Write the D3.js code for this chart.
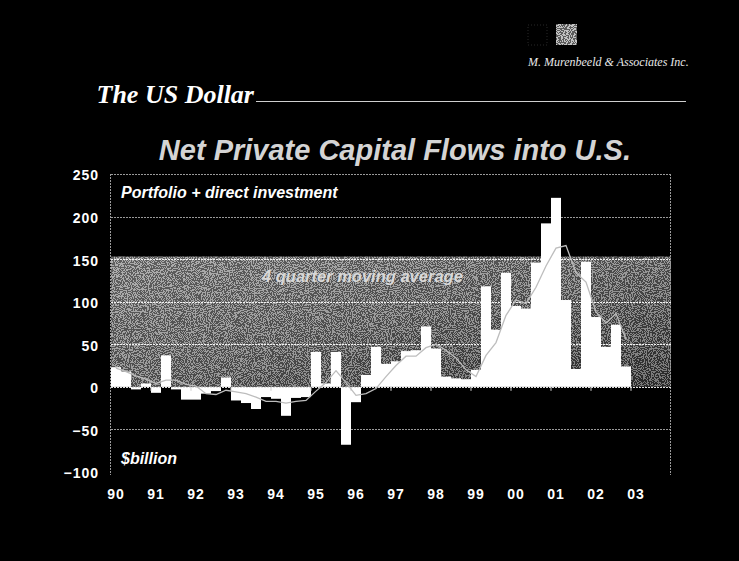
<!DOCTYPE html>
<html>
<head>
<meta charset="utf-8">
<script src="https://cdn.jsdelivr.net/npm/d3@7"></script>
<style>
  html, body { margin: 0; padding: 0; background: #000; }
  svg { display: block; }
</style>
</head>
<body>
<svg id="chart" width="739" height="561"></svg>
<script>
// Year labels on the category axis (one slot of four quarters each)
const years = ["90","91","92","93","94","95","96","97","98","99","00","01","02","03"];
const quarterNames = ["Q1","Q2","Q3","Q4"];

// Net private capital flows into the U.S., $ billion per quarter, 1990Q1 - 2002Q4
const flows = [
  23, 18, -3, 4,       // 1990
  -7, 37, -3, -15,     // 1991
  -15, -8, -5, 11,     // 1992
  -16, -19, -26, -12,  // 1993
  -14, -34, -13, -12,  // 1994
  41, 4, 41, -68,      // 1995
  -18, 14, 47, 27,     // 1996
  30, 42, 43, 71,      // 1997
  45, 12, 10, 9,       // 1998
  20, 118, 67, 134,    // 1999
  95, 92, 146, 192,    // 2000
  222, 102, 21, 147,   // 2001
  82, 47, 73, 24       // 2002
];

// 4 quarter moving average, $ billion
const movingAvg = [
  22, 18, 13, 9,
  4, 8, 8, 3,
  1, -8, -9, -4,
  -6, -8, -12, -17,
  -17, -19, -17, -16,
  -5, 5, 19, 5,
  -10, -8, -2, 12,
  25, 36, 36, 46,
  50, 43, 34, 20,
  12, 37, 52, 84,
  102, 98, 117, 142,
  163, 166, 134, 123,
  88, 75, 86, 56
];

const yTicks = [-100, -50, 0, 50, 100, 150, 200, 250];

const chartTitle = "Net Private Capital Flows into U.S.";
const sectionTitle = "The US Dollar";
const firmName = "M. Murenbeeld & Associates Inc.";
const seriesNote = "Portfolio + direct investment";
const unitNote = "$billion";
const avgNote = "4 quarter moving average";

const svg = d3.select("#chart");
const sans = "'Liberation Sans', Arial, sans-serif";
const serif = "'Liberation Serif', 'Times New Roman', serif";

const categories = years.flatMap(yr => quarterNames.map(q => yr + q));

const plot = { left: 111, right: 671, top: 174, bottom: 472 };

const x = d3.scaleBand().domain(categories).range([plot.left, plot.right]).padding(0);
const y = d3.scaleLinear().domain([-100, 250]).range([plot.bottom, plot.top]);

const defs = svg.append("defs");

// shaded band behind the bars
const grad = defs.append("linearGradient").attr("id", "bandFill")
  .attr("x1", "0").attr("y1", "0").attr("x2", "1").attr("y2", "1");
grad.append("stop").attr("offset", "0%").attr("stop-color", "#8c8c8c");
grad.append("stop").attr("offset", "50%").attr("stop-color", "#6e6e6e");
grad.append("stop").attr("offset", "100%").attr("stop-color", "#3a3a3a");

const grain = defs.append("filter").attr("id", "grain")
  .attr("x", 0).attr("y", 0).attr("width", 1).attr("height", 1);
grain.append("feTurbulence").attr("type", "fractalNoise")
  .attr("baseFrequency", 0.95).attr("numOctaves", 1).attr("seed", 7).attr("result", "n");
grain.append("feColorMatrix").attr("in", "n").attr("type", "matrix")
  .attr("values", "0.33 0.33 0.33 0 0  0.33 0.33 0.33 0 0  0.33 0.33 0.33 0 0  0 0 0 0 1")
  .attr("result", "g");
const ct = grain.append("feComponentTransfer").attr("in", "g").attr("result", "b");
["feFuncR", "feFuncG", "feFuncB"].forEach(f => ct.append(f).attr("type", "discrete").attr("tableValues", "0 1"));
grain.append("feComposite").attr("in", "b").attr("in2", "SourceGraphic").attr("operator", "in");

// top-right firm mark
svg.append("rect").attr("x", 528).attr("y", 25).attr("width", 19).attr("height", 20)
  .attr("fill", "#000").attr("stroke", "#444").attr("stroke-width", 0.6).attr("stroke-dasharray", "1,2");
svg.append("rect").attr("x", 556).attr("y", 24).attr("width", 21).attr("height", 21)
  .attr("fill", "#9a9a9a");
svg.append("rect").attr("x", 556).attr("y", 24).attr("width", 21).attr("height", 21)
  .attr("fill", "#fff").attr("filter", "url(#grain)").attr("opacity", 0.4);
svg.append("text").attr("x", 528).attr("y", 66)
  .attr("font-family", serif).attr("font-style", "italic").attr("font-size", 12)
  .attr("fill", "#e8e8e8").text(firmName);

// section heading with rule
svg.append("text").attr("x", 254).attr("y", 103).attr("text-anchor", "end")
  .attr("font-family", serif).attr("font-style", "italic").attr("font-weight", "bold")
  .attr("font-size", 26).attr("fill", "#fff").text(sectionTitle);
svg.append("line").attr("x1", 256).attr("x2", 686).attr("y1", 101.5).attr("y2", 101.5)
  .attr("stroke", "#cfcfcf").attr("stroke-width", 1);

// chart title
svg.append("text").attr("x", 631).attr("y", 160).attr("text-anchor", "end")
  .attr("font-family", sans).attr("font-style", "italic").attr("font-weight", "bold")
  .attr("font-size", 29).attr("fill", "#d4d4d4").text(chartTitle);

// shaded band from about 153 down to zero
const band = svg.append("g");
band.append("rect").attr("x", plot.left).attr("width", plot.right - plot.left)
  .attr("y", y(153)).attr("height", y(0) - y(153)).attr("fill", "url(#bandFill)");
band.append("rect").attr("x", plot.left).attr("width", plot.right - plot.left)
  .attr("y", y(153)).attr("height", y(0) - y(153)).attr("fill", "#fff")
  .attr("filter", "url(#grain)").attr("opacity", 0.3);

// horizontal gridlines
svg.append("g").selectAll("line").data(yTicks.filter(t => t !== -100))
  .join("line")
  .attr("x1", plot.left).attr("x2", plot.right)
  .attr("y1", d => Math.round(y(d)) + 0.5).attr("y2", d => Math.round(y(d)) + 0.5)
  .attr("stroke", d => (d >= 50 && d <= 150) ? "#f2f2f2" : "#9a9a9a")
  .attr("stroke-width", 1)
  .attr("stroke-dasharray", "2,1");

// plot side borders
svg.append("g").selectAll("line").data([plot.left, plot.right])
  .join("line")
  .attr("x1", d => d - 0.5).attr("x2", d => d - 0.5)
  .attr("y1", plot.top).attr("y2", plot.bottom + 3)
  .attr("stroke", "#9a9a9a").attr("stroke-dasharray", "2,1");

// bars
svg.append("g").selectAll("rect").data(flows)
  .join("rect")
  .attr("x", (d, i) => x(categories[i]))
  .attr("width", x.bandwidth())
  .attr("y", d => y(Math.max(0, d)))
  .attr("height", d => Math.abs(y(d) - y(0)))
  .attr("fill", "#fff");

// zero axis with year ticks
svg.append("line").attr("x1", plot.left).attr("x2", plot.right)
  .attr("y1", Math.round(y(0)) + 0.5).attr("y2", Math.round(y(0)) + 0.5)
  .attr("stroke", "#e0e0e0").attr("stroke-dasharray", "2,1");
svg.append("g").selectAll("line").data(years.slice(1))
  .join("line")
  .attr("x1", d => x(d + "Q1")).attr("x2", d => x(d + "Q1"))
  .attr("y1", y(0)).attr("y2", y(0) + 4)
  .attr("stroke", "#d0d0d0");

// moving average line
const line = d3.line()
  .x((d, i) => x(categories[i]) + x.bandwidth() / 2)
  .y(d => y(d));
svg.append("path").datum(movingAvg)
  .attr("d", line).attr("fill", "none")
  .attr("stroke", "#bdbdbd").attr("stroke-width", 1.3);

// y axis labels
const yAxis = svg.append("g").attr("transform", `translate(99,1.5)`)
  .call(d3.axisLeft(y).tickValues(yTicks).tickSize(0).tickPadding(0));
yAxis.select(".domain").remove();
yAxis.selectAll("text")
  .attr("font-family", sans).attr("font-weight", "bold").attr("font-size", 14)
  .attr("letter-spacing", 1).attr("fill", "#fff");

// x axis labels at each year's first quarter
const xAxis = svg.append("g").attr("transform", `translate(0,489)`)
  .call(d3.axisBottom(x).tickValues(years.map(yr => yr + "Q1"))
    .tickFormat(d => d.slice(0, 2)).tickSize(0).tickPadding(0));
xAxis.select(".domain").remove();
xAxis.selectAll("text")
  .attr("font-family", sans).attr("font-weight", "bold").attr("font-size", 14)
  .attr("letter-spacing", 1).attr("fill", "#fff");

// annotations
svg.append("text").attr("x", 121).attr("y", 198)
  .attr("font-family", sans).attr("font-style", "italic").attr("font-weight", "bold")
  .attr("font-size", 16).attr("fill", "#fff").text(seriesNote);
svg.append("text").attr("x", 121).attr("y", 464)
  .attr("font-family", sans).attr("font-style", "italic").attr("font-weight", "bold")
  .attr("font-size", 16).attr("fill", "#fff").text(unitNote);
svg.append("text").attr("x", 262).attr("y", 282)
  .attr("font-family", sans).attr("font-style", "italic").attr("font-weight", "bold")
  .attr("font-size", 16.5).attr("fill", "#d8d8d8").text(avgNote);
</script>
</body>
</html>
